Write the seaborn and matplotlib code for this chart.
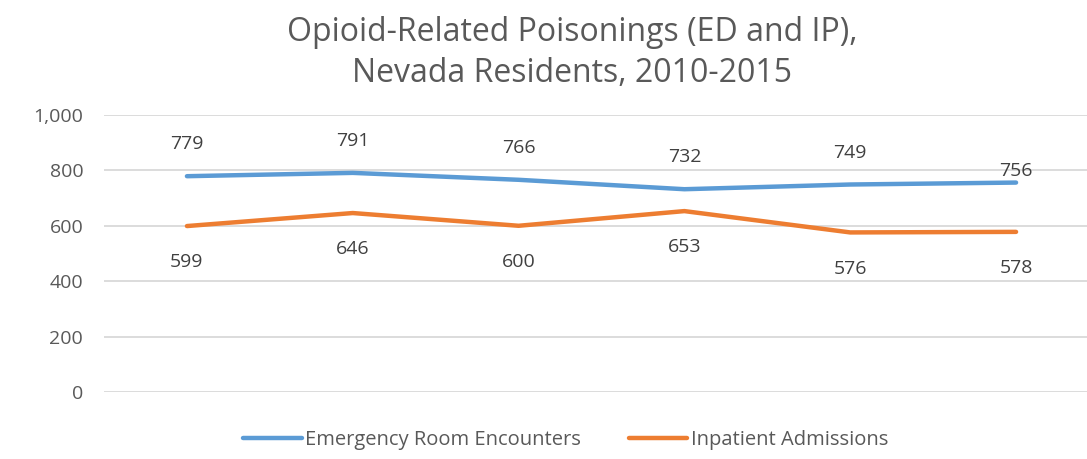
import matplotlib
matplotlib.use("Agg")
import matplotlib.pyplot as plt
import seaborn as sns
import pandas as pd
from matplotlib.ticker import FuncFormatter

years = [2010, 2011, 2012, 2013, 2014, 2015]
er_values = [779, 791, 766, 732, 749, 756]
ip_values = [599, 646, 600, 653, 576, 578]
series_names = ["Emergency Room Encounters", "Inpatient Admissions"]
colors = ["#5B9BD5", "#ED7D31"]

df = pd.DataFrame({
    "Year": years * 2,
    "idx": list(range(len(years))) * 2,
    "Value": er_values + ip_values,
    "Series": [series_names[0]] * len(years) + [series_names[1]] * len(years),
})

sns.set_theme(style="white")
plt.rcParams["font.family"] = ["Open Sans", "DejaVu Sans"]
text_color = "#595959"

fig = plt.figure(figsize=(10.87, 4.59), dpi=100)
ax = fig.add_axes([0.0957, 0.146, 0.9153, 0.6035])

sns.lineplot(data=df, x="idx", y="Value", hue="Series", palette=colors,
             linewidth=3.2, ax=ax, legend=True, solid_capstyle="round")

for i, v in enumerate(er_values):
    off = 23 if i < len(er_values) - 1 else 8
    ax.annotate(f"{v}", (i, v), xytext=(0, off), textcoords="offset points",
                ha="center", va="center", fontsize=14, color="#404040")
for i, v in enumerate(ip_values):
    ax.annotate(f"{v}", (i, v), xytext=(0, -26), textcoords="offset points",
                ha="center", va="center", fontsize=14, color="#404040")

ax.set_xlim(-0.5, len(years) - 0.5)
ax.set_ylim(0, 1000)
ax.set_yticks([0, 200, 400, 600, 800, 1000])
ax.yaxis.set_major_formatter(FuncFormatter(lambda v, p: f"{int(v):,}"))
ax.set_xticks([])
ax.set_xlabel("")
ax.set_ylabel("")
ax.grid(axis="y", color="#D9D9D9", linewidth=1.3)
ax.set_axisbelow(True)
for s in ax.spines.values():
    s.set_visible(False)
ax.tick_params(axis="y", colors=text_color, labelsize=14, length=0, pad=15)

fig.text(0.526, 0.8856, "Opioid-Related Poisonings (ED and IP),\nNevada Residents, 2010-2015",
         ha="center", va="center", fontsize=23, color=text_color, linespacing=1.32)

handles, labels = ax.get_legend_handles_labels()
ax.legend(handles, labels, loc="center", bbox_to_anchor=(0.464, -0.173),
          ncol=2, frameon=False, fontsize=14.5, labelcolor=text_color,
          handlelength=2.9, handletextpad=0.15, columnspacing=2.4)

fig.savefig("out.png", dpi=100)
